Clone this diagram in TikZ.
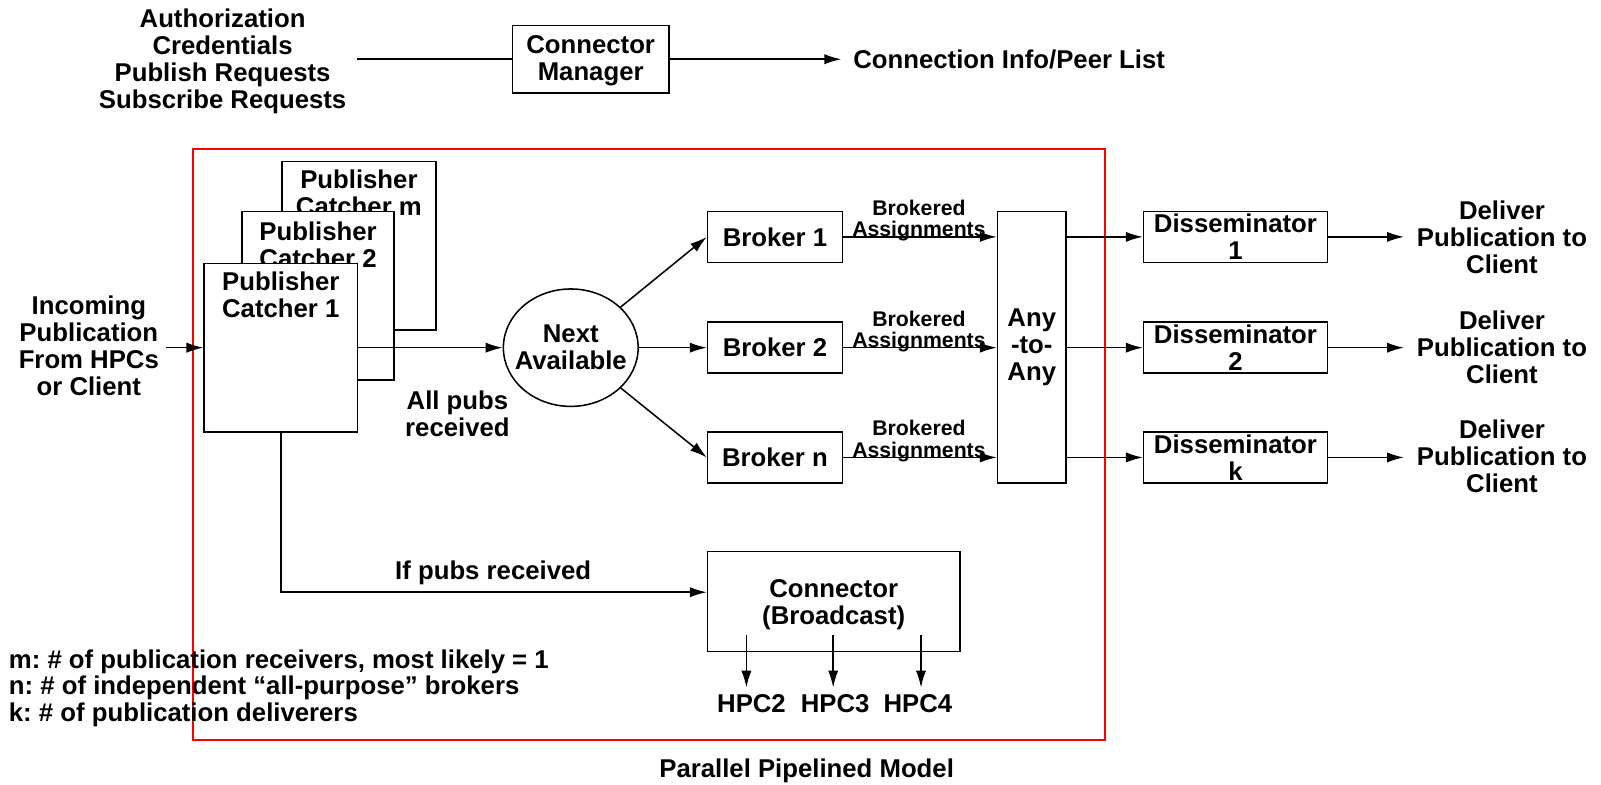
\documentclass[tikz,border=0pt]{standalone}
\usepackage{fontspec}
\setmainfont{Liberation Sans}
\usetikzlibrary{arrows.meta,shapes.geometric}
\frenchspacing
\newcommand\boldtxt{\fontsize{12.6}{13.2}\selectfont\bfseries}
\newcommand\smallbold{\fontsize{10.4}{10.5}\selectfont\bfseries}
\begin{document}
\begin{tikzpicture}[x=0.5pt,y=-0.5pt,
  line width=0.75pt,
  >={Latex[length=8.3pt,width=5pt]},
  blk/.style 2 args={draw, fill=white, inner sep=0pt, align=center, font=\boldtxt,
    minimum width=#1*0.5pt, minimum height=#2*0.5pt},
  txt/.style={inner sep=0pt, align=center, font=\boldtxt},
  lbl/.style={inner sep=0pt, align=center, font=\smallbold},
  frame/.style={draw=red, line width=1pt}
]
\useasboundingbox (0,0) rectangle (1568,768);

% ---- top row: connector manager ----
\node[txt] (auth) at (218,60) {Authorization\\Credentials\\Publish Requests\\Subscribe Requests};
\node[blk={153}{66}] (cm) at (578.5,58) {};
\node[txt, font=\fontsize{12.6}{13.6}\selectfont\bfseries] (cmt) at (578.5,59.5) {Connector\\Manager};
\coordinate (ain) at (350,58);
\coordinate (aout) at (824,58);
\node[txt, anchor=west] (peer) at (835,58) {Connection Info/Peer List};
\draw (ain) -- (cm.west);
\draw[->] (cm.east) -- (aout);

% ---- pipeline frame ----
\draw[frame] (189,146) rectangle (1082,725);

% ---- publisher catchers (stacked) ----
\node[blk={151}{165}] (pcm) at (351.5,240.5) {};
\node[txt] (pcmt) at (351.5,189) {Publisher\\Catcher m};
\node[blk={149}{165}] (pc2) at (311.5,289.5) {};
\node[txt] (pc2t) at (311.5,239.5) {Publisher\\Catcher 2};
\node[blk={150}{165}] (pc1) at (275,340.5) {};
\node[txt] (pc1t) at (275,288.5) {Publisher\\Catcher 1};

\node[txt] (inc) at (87,339) {Incoming\\Publication\\From HPCs\\or Client};
\coordinate (incs) at (163,340.5);
\draw[->] (incs) -- (pc1.west);

% ---- next available dispatcher ----
\node[draw, ellipse, inner sep=0pt, minimum width=132*0.5pt, minimum height=115*0.5pt]
  (na) at (559,340.5) {};
\node[txt] (nat) at (559,340) {Next\\Available};
\draw[->] (pc1.east) -- (na.west);
\node[txt] (allp) at (448,405) {All pubs\\received};

% ---- brokers ----
\node[blk={132}{50}] (b1) at (759,232) {Broker 1};
\node[blk={132}{50}] (b2) at (759,340.5) {Broker 2};
\node[blk={132}{50}] (b3) at (759,448) {Broker n};
\draw[->] (na) -- (b1.west);
\draw[->] (na.east) -- (b2.west);
\draw[->] (na) -- (b3.west);

% ---- any-to-any switch ----
\node[blk={67}{266}] (any) at (1010.5,340) {Any\\-to-\\Any};
\draw[->] (b1.east) -- (any.west |- b1.east);
\draw[->] (b2.east) -- (any.west |- b2.east);
\draw[->] (b3.east) -- (any.west |- b3.east);
\node[lbl] (ba1) at (900,216) {Brokered\\Assignments};
\node[lbl] (ba2) at (900,324.5) {Brokered\\Assignments};
\node[lbl] (ba3) at (900,432) {Brokered\\Assignments};

% ---- disseminators ----
\node[blk={180}{50}] (d1) at (1210,232) {Disseminator\\1};
\node[blk={180}{50}] (d2) at (1210,340.5) {Disseminator\\2};
\node[blk={180}{50}] (d3) at (1210,448) {Disseminator\\k};
\draw[->] (any.east |- d1.west) -- (d1.west);
\draw[->] (any.east |- d2.west) -- (d2.west);
\draw[->] (any.east |- d3.west) -- (d3.west);
\coordinate (o1) at (1375,232);
\coordinate (o2) at (1375,340.5);
\coordinate (o3) at (1375,448);
\draw[->] (d1.east) -- (o1);
\draw[->] (d2.east) -- (o2);
\draw[->] (d3.east) -- (o3);
\node[txt] (dl1) at (1471,232) {Deliver\\Publication to\\Client};
\node[txt] (dl2) at (1471,340) {Deliver\\Publication to\\Client};
\node[txt] (dl3) at (1471,447) {Deliver\\Publication to\\Client};

% ---- broadcast connector ----
\node[blk={247}{98}] (cb) at (816.5,589) {};
\node[txt] (cbt) at (816.5,592) {Connector\\(Broadcast)};
\draw[->] (pc1.south) |- ([yshift=4.5pt]cb.west);
\node[txt] (ifp) at (483,561) {If pubs received};

\node[txt, inner sep=3pt] (h2) at (736,689) {HPC2};
\node[txt, inner sep=3pt] (h3) at (818,689) {HPC3};
\node[txt, inner sep=3pt] (h4) at (899,689) {HPC4};
\coordinate (s2) at (731,622);
\coordinate (s3) at (816,622);
\coordinate (s4) at (902,622);
\draw[->] (s2) -- (s2 |- h2.north);
\draw[->] (s3) -- (s3 |- h3.north);
\draw[->] (s4) -- (s4 |- h4.north);

% ---- legend and caption ----
\node[txt, align=left, anchor=west, font=\fontsize{12.6}{13}\selectfont\bfseries] (leg) at (8,674)
  {m: \# of publication receivers, most likely = 1\\
   n: \# of independent “all-purpose” brokers\\
   k: \# of publication deliverers};
\node[txt] (cap) at (790,755) {Parallel Pipelined Model};
\end{tikzpicture}
\end{document}
